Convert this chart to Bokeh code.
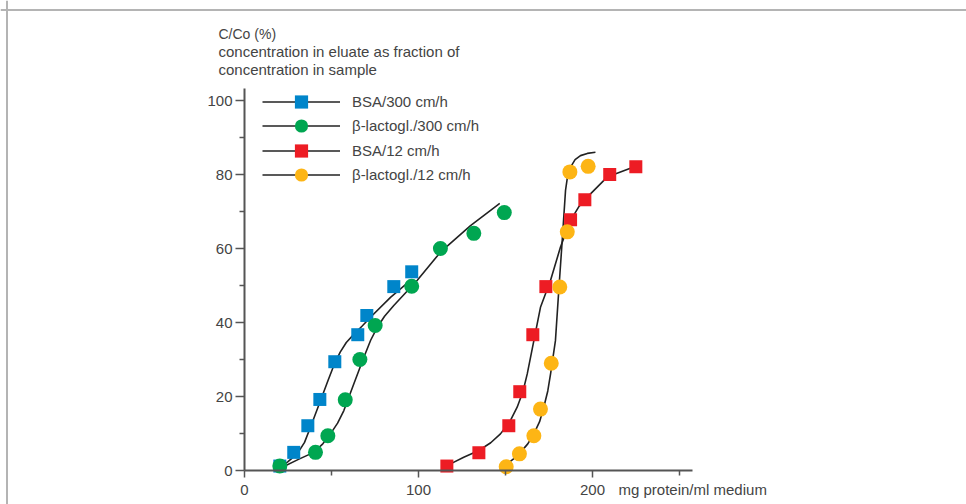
from bokeh.plotting import figure
from bokeh.models import Range1d, FixedTicker, Label, Legend, LegendItem, Span
from bokeh.embed import file_html
from bokeh.resources import INLINE

# ---------------- data ----------------
series_labels = ["BSA/300 cm/h", "β-lactogl./300 cm/h", "BSA/12 cm/h", "β-lactogl./12 cm/h"]
series_colors = ["#0085CA", "#00A651", "#ED1C24", "#FDB515"]

bsa300_x = [20.3, 28.3, 36.4, 43.3, 51.9, 65.1, 70.3, 85.8, 96.1]
bsa300_y = [1.2, 4.9, 12.1, 19.2, 29.4, 36.7, 41.9, 49.7, 53.7]

lac300_x = [20.3, 40.8, 47.9, 57.9, 66.3, 75.1, 96.1, 112.6, 131.8, 149.3]
lac300_y = [1.2, 4.9, 9.4, 19.1, 30.0, 39.2, 49.8, 60.0, 64.1, 69.7]

bsa12_x = [116.3, 134.7, 151.9, 158.2, 165.7, 173.2, 187.4, 195.6, 209.9, 224.9]
bsa12_y = [1.2, 4.8, 12.1, 21.3, 36.7, 49.7, 67.8, 73.2, 80.0, 82.1]

lac12_x = [150.4, 158.0, 166.3, 170.1, 176.3, 181.2, 185.5, 187.0, 197.5]
lac12_y = [1.0, 4.5, 9.4, 16.6, 29.0, 49.6, 64.5, 80.7, 82.2]

# fitted curves
bsa300_cx = [20.3, 25.0, 30.3, 34.5, 37.9, 43.7, 48.0, 51.5, 55.0, 58.5, 62.8, 67.5, 72.4, 83.9, 95.4]
bsa300_cy = [0.7, 2.4, 4.5, 7.6, 11.7, 18.9, 24.3, 28.6, 32.0, 34.6, 36.8, 39.0, 41.4, 46.8, 51.4]

lac300_cx = [22.6, 31.0, 39.8, 45.0, 49.4, 53.5, 57.1, 62.8, 68.6, 72.5, 76.3, 80.5, 85.8, 99.3, 112.6, 129.9, 146.7]
lac300_cy = [1.1, 3.0, 4.9, 7.2, 9.9, 12.8, 16.2, 23.4, 30.6, 35.2, 38.7, 41.7, 44.6, 51.4, 59.0, 66.2, 72.2]

bsa12_cx = [118.4, 126.0, 134.7, 141.5, 147.1, 152.5, 156.7, 160.0, 162.5, 166.3, 170.1, 175.9, 181.6, 187.4, 192.0, 197.0, 208.4, 223.7]
bsa12_cy = [1.8, 3.6, 5.4, 7.5, 9.9, 13.2, 17.1, 21.3, 26.1, 35.1, 44.1, 51.4, 60.4, 67.6, 71.2, 73.9, 79.3, 82.0]

lac12_cx = [151.0, 154.8, 158.6, 162.8, 166.3, 169.6, 172.0, 174.3, 175.9, 178.7, 180.6, 182.6, 184.5, 185.7, 187.4, 190.0, 193.1, 197.0, 201.7]
lac12_cy = [1.8, 3.2, 4.9, 7.2, 9.9, 13.2, 17.1, 21.5, 26.1, 35.1, 48.6, 62.2, 75.7, 79.6, 82.0, 84.0, 85.1, 85.7, 86.0]

x_ticks = [0, 100, 200]
x_minor = [50, 150, 250]
y_ticks = [0, 20, 40, 60, 80, 100]
y_minor = [10, 30, 50, 70, 90]
x_axis_end = 257.5
y_axis_end = 103.2

y_title_lines = ["C/Co (%)", "concentration in eluate as fraction of", "concentration in sample"]
x_title = "mg protein/ml medium"

# ---------------- layout constants (pixels) ----------------
W, H = 966, 504
X0_PX, Y0_PX = 244, 470          # canvas position of the data origin
PX_PER_X, PX_PER_Y = 1.74, 3.7   # pixels per data unit

def dx(px):  # canvas px -> data x
    return (px - X0_PX) / PX_PER_X

def dy(py):  # canvas px (from top) -> data y
    return (Y0_PX - py) / PX_PER_Y

FONT = "Liberation Sans"
TXT = "#444444"
AX = "#555555"

p = figure(width=W, height=H, output_backend="svg", toolbar_location=None,
           x_range=Range1d(dx(0), dx(W)), y_range=Range1d(dy(H), dy(0)),
           min_border=0, min_border_left=0, min_border_right=0,
           min_border_top=0, min_border_bottom=0)
p.grid.visible = False
p.outline_line_color = None
p.background_fill_color = "white"
p.border_fill_color = "white"

# page frame (top and left gray rule)
p.add_layout(Span(location=dy(9.5), dimension="width", line_color="#b4b4b4", line_width=2))
p.add_layout(Span(location=dx(6.5), dimension="height", line_color="#b4b4b4", line_width=2))

xa, ya = p.xaxis[0], p.yaxis[0]
for ax in (xa, ya):
    ax.fixed_location = 0
    ax.axis_line_color = AX
    ax.axis_line_width = 2
    ax.major_tick_line_color = AX
    ax.minor_tick_line_color = AX
    ax.major_tick_line_width = 1.5
    ax.minor_tick_line_width = 1.5
    ax.major_tick_in = 0
    ax.minor_tick_in = 0
    ax.major_label_text_font = FONT
    ax.major_label_text_font_size = "15px"
    ax.major_label_text_color = TXT

xa.ticker = FixedTicker(ticks=x_ticks, minor_ticks=x_minor)
ya.ticker = FixedTicker(ticks=y_ticks, minor_ticks=y_minor)
xa.bounds = (0, x_axis_end)
ya.bounds = (0, y_axis_end)
xa.major_tick_out = 7
xa.minor_tick_out = 5
xa.major_label_standoff = 7
ya.major_tick_out = 9
ya.minor_tick_out = 5
ya.major_label_standoff = 3

# curves
curve_kw = dict(line_color="#222222", line_width=1.6, line_join="round")
c1 = p.line(bsa300_cx, bsa300_cy, **curve_kw)
c2 = p.line(lac300_cx, lac300_cy, **curve_kw)
c3 = p.line(bsa12_cx, bsa12_cy, **curve_kw)
c4 = p.line(lac12_cx, lac12_cy, **curve_kw)

# markers
m1 = p.scatter(bsa300_x, bsa300_y, marker="square", size=13, fill_color=series_colors[0], line_color=None)
m2 = p.scatter(lac300_x, lac300_y, marker="circle", size=15, fill_color=series_colors[1], line_color=None)
m3 = p.scatter(bsa12_x, bsa12_y, marker="square", size=13, fill_color=series_colors[2], line_color=None)
m4 = p.scatter(lac12_x, lac12_y, marker="circle", size=15, fill_color=series_colors[3], line_color=None)

# legend: one single-row legend per entry so rows sit ~24 px apart with 13 px markers
row_centers_px = [101, 125, 150, 174]
GLYPH_H = 33
for lab, rs, cy in zip(series_labels, [(c1, m1), (c2, m2), (c3, m3), (c4, m4)], row_centers_px):
    lg = Legend(items=[LegendItem(label=lab, renderers=list(rs))],
                location=(262, H - (cy + GLYPH_H / 2)),
                glyph_width=78, glyph_height=GLYPH_H, spacing=0, padding=0, margin=0,
                label_standoff=12, label_text_font=FONT, label_text_font_size="15px",
                label_text_color=TXT, border_line_alpha=0, background_fill_alpha=0)
    p.add_layout(lg, "center")

# titles
for txt, py, fs in zip(y_title_lines, [33, 51, 69], ["14px", "15px", "15px"]):
    p.add_layout(Label(x=dx(218), y=dy(py), text=txt, text_font=FONT, text_font_size=fs,
                       text_color=TXT, text_baseline="middle", text_align="left"))
p.add_layout(Label(x=dx(618), y=dy(489), text=x_title, text_font=FONT, text_font_size="15px",
                   text_color=TXT, text_baseline="middle", text_align="left"))

open("out.html", "w").write(file_html(p, INLINE))
